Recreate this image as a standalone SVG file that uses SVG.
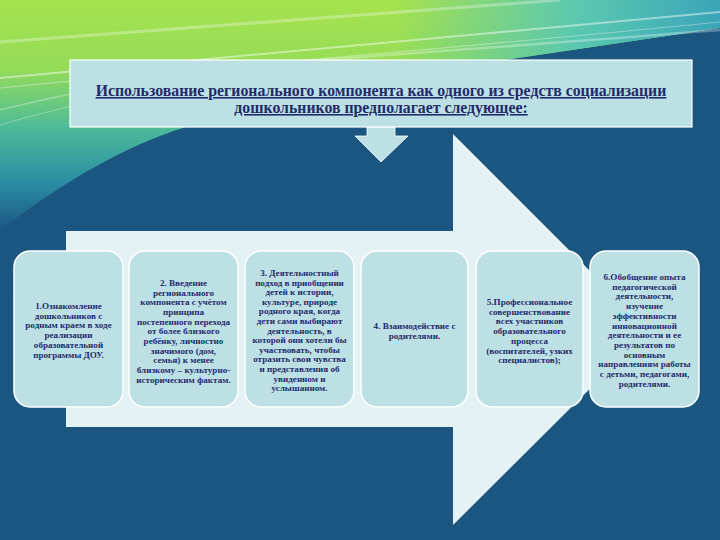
<svg xmlns="http://www.w3.org/2000/svg" width="720" height="540" viewBox="0 0 720 540">
<style>
.box{fill:#bde0e4;stroke:#ffffff;stroke-width:1.5}
.bt{font-family:"Liberation Serif","DejaVu Serif",serif;font-weight:bold;font-size:9.1px;fill:#1f2b6b;text-anchor:middle}
.ht{font-family:"Liberation Serif","DejaVu Serif",serif;font-weight:bold;font-size:15.8px;fill:#1f2b6b;text-anchor:middle;text-decoration:underline}
.arr{fill:#e4f2f4}
.st{fill:none;stroke:#ffffff}
</style>
<defs>
<linearGradient id="gA" x1="0" y1="0" x2="0" y2="1">
<stop offset="0" stop-color="#a6e24e"/>
<stop offset="0.3" stop-color="#94dc58"/>
<stop offset="0.55" stop-color="#4fbc98"/>
<stop offset="0.8" stop-color="#2a8ca4"/>
<stop offset="1" stop-color="#1b5681"/>
</linearGradient>
<linearGradient id="gB" x1="0" y1="0" x2="1" y2="0">
<stop offset="0" stop-color="#4ec4c0" stop-opacity="0"/>
<stop offset="0.55" stop-color="#4ec4c0" stop-opacity="0"/>
<stop offset="0.8" stop-color="#4ec4c0" stop-opacity="0.85"/>
<stop offset="1" stop-color="#3aa4b8" stop-opacity="1"/>
</linearGradient>
</defs>
<g id="background">
<rect x="0" y="0" width="720" height="540" fill="#1b5681"/>
<path d="M0,0 H720 V28 L505,60 C400,75 250,100 150,140 C90,165 40,200 0,230 Z" fill="url(#gA)"/>
<path d="M0,0 H720 V28 L505,60 C400,75 250,100 150,140 C90,165 40,200 0,230 Z" fill="url(#gB)"/>
<path class="st" d="M0,42 C160,30 330,16 560,0" stroke-width="3" opacity="0.3"/>
<path class="st" d="M0,78 C200,58 420,40 720,12" stroke-width="2" opacity="0.45"/>
<path class="st" d="M0,88 C220,66 440,50 720,22" stroke-width="1.2" opacity="0.35"/>
<path class="st" d="M200,70 C360,56 520,46 720,30" stroke-width="2.5" opacity="0.3"/>
<path class="st" d="M0,110 C40,100 70,94 100,88" stroke-width="1.5" opacity="0.3"/>
<path class="st" d="M0,125 C30,116 55,110 80,104" stroke-width="1" opacity="0.3"/>
</g>
<g id="connectors">
<path class="arr" d="M66,231 L453,231 L453,134 L649,330 L453,525 L453,427 L66,427 Z"/>
<path d="M367,127 L395,127 L395,136 L408,136 L381,162 L355,136 L367,136 Z" fill="#bde0e4" stroke="#ffffff" stroke-width="0.8"/>
</g>
<g id="header">
<rect x="70" y="60" width="622" height="67" fill="#bde0e4" stroke="#ffffff" stroke-width="1.2"/>
<text class="ht" x="381" y="96">Использование регионального компонента как одного из средств социализации</text>
<text class="ht" x="381" y="113">дошкольников предполагает следующее: </text>
</g>
<g id="box1">
<rect class="box" x="14" y="251" width="109" height="156" rx="16"/>
<text class="bt" y="309"><tspan x="68.5">1.Ознакомление</tspan><tspan x="68.5" dy="9.7">дошкольников  с</tspan><tspan x="68.5" dy="9.7">родным краем в ходе</tspan><tspan x="68.5" dy="9.7">реализации</tspan><tspan x="68.5" dy="9.7">образовательной</tspan><tspan x="68.5" dy="9.7">программы  ДОУ.</tspan></text>
</g>
<g id="box2">
<rect class="box" x="129" y="251" width="109" height="156" rx="16"/>
<text class="bt" y="286"><tspan x="183.5">2. Введение</tspan><tspan x="183.5" dy="9.65">регионального</tspan><tspan x="183.5" dy="9.65">компонента с учётом</tspan><tspan x="183.5" dy="9.65">принципа</tspan><tspan x="183.5" dy="9.65">постепенного перехода</tspan><tspan x="183.5" dy="9.65">от более близкого</tspan><tspan x="183.5" dy="9.65">ребёнку, личностно</tspan><tspan x="183.5" dy="9.65">значимого (дом,</tspan><tspan x="183.5" dy="9.65">семья) к менее</tspan><tspan x="183.5" dy="9.65">близкому – культурно-</tspan><tspan x="183.5" dy="9.65">историческим фактам.</tspan></text>
</g>
<g id="box3">
<rect class="box" x="245" y="251" width="109" height="156" rx="16"/>
<text class="bt" y="276"><tspan x="299.5">3. Деятельностный</tspan><tspan x="299.5" dy="9.6">подход в приобщении</tspan><tspan x="299.5" dy="9.6">детей к истории,</tspan><tspan x="299.5" dy="9.6">культуре, природе</tspan><tspan x="299.5" dy="9.6">родного края, когда</tspan><tspan x="299.5" dy="9.6">дети сами выбирают</tspan><tspan x="299.5" dy="9.6">деятельность, в</tspan><tspan x="299.5" dy="9.6">которой они хотели бы</tspan><tspan x="299.5" dy="9.6">участвовать, чтобы</tspan><tspan x="299.5" dy="9.6">отразить свои чувства</tspan><tspan x="299.5" dy="9.6">и представления об</tspan><tspan x="299.5" dy="9.6">увиденном и</tspan><tspan x="299.5" dy="9.6">услышанном.</tspan></text>
</g>
<g id="box4">
<rect class="box" x="361" y="251" width="107" height="156" rx="16"/>
<text class="bt" y="329"><tspan x="414.5">4. Взаимодействие  с</tspan><tspan x="414.5" dy="10">родителями.</tspan></text>
</g>
<g id="box5">
<rect class="box" x="476" y="251" width="107" height="156" rx="16"/>
<text class="bt" y="305"><tspan x="529.5">5.Профессиональное</tspan><tspan x="529.5" dy="9.7">совершенствование</tspan><tspan x="529.5" dy="9.7">всех участников</tspan><tspan x="529.5" dy="9.7">образовательного</tspan><tspan x="529.5" dy="9.7">процесса</tspan><tspan x="529.5" dy="9.7">(воспитателей,   узких</tspan><tspan x="529.5" dy="9.7">специалистов);</tspan></text>
</g>
<g id="box6">
<rect class="box" x="590" y="251" width="109" height="156" rx="16"/>
<text class="bt" y="280"><tspan x="644.5">6.Обобщение опыта</tspan><tspan x="644.5" dy="9.7">педагогической</tspan><tspan x="644.5" dy="9.7">деятельности,</tspan><tspan x="644.5" dy="9.7">изучение</tspan><tspan x="644.5" dy="9.7">эффективности</tspan><tspan x="644.5" dy="9.7">инновационной</tspan><tspan x="644.5" dy="9.7">деятельности и ее</tspan><tspan x="644.5" dy="9.7">результатов по</tspan><tspan x="644.5" dy="9.7">основным</tspan><tspan x="644.5" dy="9.7">направлениям работы</tspan><tspan x="644.5" dy="9.7">с детьми, педагогами,</tspan><tspan x="644.5" dy="9.7">родителями.</tspan></text>
</g>
</svg>
